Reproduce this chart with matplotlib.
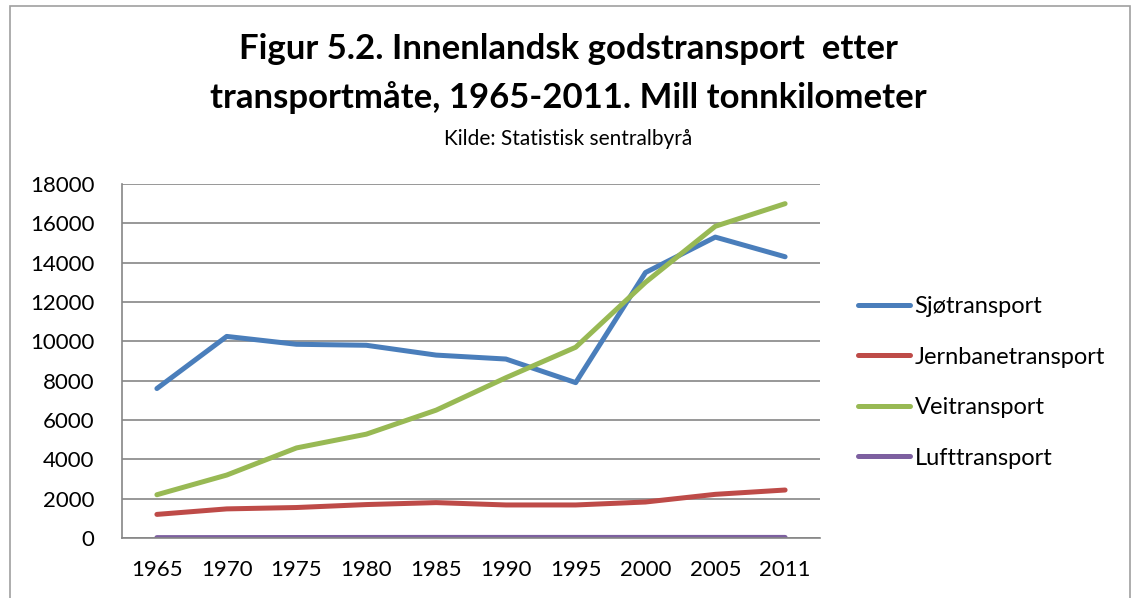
import matplotlib
matplotlib.use('Agg')
import matplotlib.pyplot as plt
from matplotlib.patches import Rectangle

years = ['1965', '1970', '1975', '1980', '1985', '1990', '1995', '2000', '2005', '2011']
sjo = [7600, 10250, 9850, 9800, 9300, 9100, 7900, 13500, 15300, 14300]
jernbane = [1200, 1480, 1550, 1700, 1800, 1680, 1680, 1830, 2220, 2440]
vei = [2200, 3200, 4580, 5280, 6500, 8150, 9700, 13000, 15850, 17000]
luft = [20, 22, 25, 28, 30, 30, 30, 30, 30, 30]

names = ['Sjøtransport', 'Jernbanetransport', 'Veitransport', 'Lufttransport']
colors = ['#4A7EBB', '#BE4B48', '#98B954', '#7D60A0']

plt.rcParams['font.family'] = ['Lato', 'DejaVu Sans']

fig = plt.figure(figsize=(11.37, 5.98), dpi=100)
# chart border
fig.patches.append(Rectangle((10/1137, -0.05), 1120/1137, 1.04, transform=fig.transFigure,
                             fill=False, edgecolor='#A0A0A0', linewidth=1.2))

ax = fig.add_axes([122/1137, 1 - 538/598, 698/1137, 354/598])

x = list(range(len(years)))
for vals, name, col in zip([sjo, jernbane, vei, luft], names, colors):
    ax.plot(x, vals, color=col, linewidth=3.6, label=name, solid_capstyle='round')

ax.set_xlim(-0.5, len(years) - 0.5)
ax.set_ylim(0, 18000)
ax.set_yticks(range(0, 18001, 2000))
ax.set_xticks(x)
ax.set_xticklabels(years)
ax.yaxis.grid(True, color='#868686', linewidth=1.2)
ax.set_axisbelow(True)
for s in ['top', 'right']:
    ax.spines[s].set_visible(False)
for s in ['left', 'bottom']:
    ax.spines[s].set_color('#868686')
    ax.spines[s].set_linewidth(1.2)
ax.tick_params(length=0, labelsize=16)
ax.tick_params(axis='x', pad=16)
ax.tick_params(axis='y', pad=20)

fig.text(0.5, 1 - 49/598, 'Figur 5.2. Innenlandsk godstransport  etter', ha='center', va='center',
         fontsize=25, fontweight='bold')
fig.text(0.5, 1 - 98/598, 'transportmåte, 1965-2011. Mill tonnkilometer', ha='center', va='center',
         fontsize=25, fontweight='bold')
fig.text(0.5, 1 - 139/598, 'Kilde: Statistisk sentralbyrå', ha='center', va='center', fontsize=15)

leg = ax.legend(loc='upper left', bbox_to_anchor=(858/1137, 1 - 296/598), bbox_transform=fig.transFigure,
                frameon=False, fontsize=17, handlelength=2.2, handletextpad=0.2, labelspacing=1.25,
                borderaxespad=0, borderpad=0)

fig.savefig('out.png', dpi=100)
